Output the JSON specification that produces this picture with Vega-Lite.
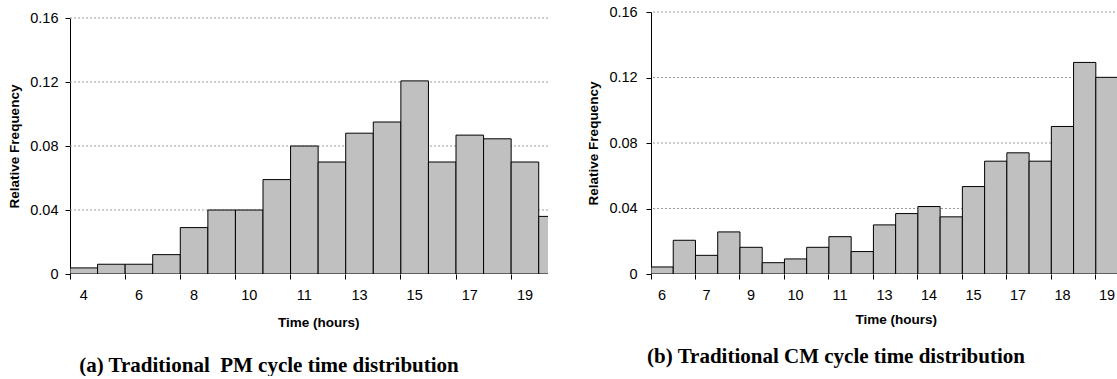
{
  "$schema": "https://vega.github.io/schema/vega-lite/v6.json",
  "background": "white",
  "padding": {"left": 7, "top": 4, "right": 0, "bottom": 0},
  "spacing": 19,
  "config": {
    "view": {"stroke": null},
    "font": "Liberation Sans",
    "axis": {
      "domainColor": "black",
      "tickColor": "black",
      "tickSize": 5,
      "labelColor": "black",
      "labelFont": "Liberation Sans",
      "labelFontSize": 14.5,
      "titleColor": "black",
      "titleFont": "Liberation Sans",
      "titleFontSize": 13.5,
      "titleFontWeight": "bold",
      "grid": false
    }
  },
  "datasets": {
    "grid": [{"f": 0.04}, {"f": 0.08}, {"f": 0.12}, {"f": 0.16}],
    "pm": [
      {"t": "4", "f": 0.0038}, {"t": "5", "f": 0.0061}, {"t": "6", "f": 0.0061},
      {"t": "7", "f": 0.0121}, {"t": "8", "f": 0.029}, {"t": "9", "f": 0.040},
      {"t": "10", "f": 0.040}, {"t": "10.5", "f": 0.059}, {"t": "11", "f": 0.080},
      {"t": "12", "f": 0.070}, {"t": "13", "f": 0.088}, {"t": "14", "f": 0.095},
      {"t": "15", "f": 0.1207}, {"t": "16", "f": 0.070}, {"t": "17", "f": 0.0868},
      {"t": "18", "f": 0.0845}, {"t": "19", "f": 0.070}, {"t": "20", "f": 0.036}
    ],
    "cm": [
      {"t": "6", "f": 0.0043}, {"t": "6.5", "f": 0.0206}, {"t": "7", "f": 0.0114},
      {"t": "8", "f": 0.0257}, {"t": "9", "f": 0.0163}, {"t": "9.5", "f": 0.0069},
      {"t": "10", "f": 0.0092}, {"t": "10.5", "f": 0.0163}, {"t": "11", "f": 0.0228},
      {"t": "12", "f": 0.0137}, {"t": "13", "f": 0.030}, {"t": "13.5", "f": 0.0369},
      {"t": "14", "f": 0.0412}, {"t": "14.5", "f": 0.0349}, {"t": "15", "f": 0.0534},
      {"t": "16", "f": 0.0689}, {"t": "17", "f": 0.074}, {"t": "17.5", "f": 0.0689},
      {"t": "18", "f": 0.0901}, {"t": "18.5", "f": 0.1292}, {"t": "19", "f": 0.1201}
    ]
  },
  "hconcat": [
    {
      "width": 478,
      "height": 262,
      "title": {
        "text": "(a) Traditional\u00a0 PM cycle time distribution",
        "orient": "bottom",
        "anchor": "middle",
        "dx": -40,
        "offset": 26,
        "font": "Liberation Serif",
        "fontSize": 21,
        "fontWeight": "bold",
        "color": "black"
      },
      "layer": [
        {
          "data": {"name": "grid"},
          "mark": {"type": "rule", "color": "#999999", "strokeDash": [2, 2], "strokeWidth": 1},
          "encoding": {
            "y": {
              "field": "f", "type": "quantitative",
              "scale": {"domain": [0, 0.16], "range": [262, 6], "nice": false},
              "axis": {
                "title": "Relative Frequency",
                "values": [0, 0.04, 0.08, 0.12, 0.16],
                "labelExpr": "datum.value == 0 ? '0' : format(datum.value, '.2f')",
                "labelPadding": 7,
                "titlePadding": 8.5
              }
            }
          }
        },
        {
          "data": {"name": "pm"},
          "mark": {"type": "bar", "fill": "#c0c0c0", "stroke": "black", "strokeWidth": 1, "clip": true},
          "encoding": {
            "x": {
              "field": "t", "type": "ordinal", "sort": null,
              "scale": {
                "domain": ["4","5","6","7","8","9","10","10.5","11","12","13","14","15","16","17","18","19","20"],
                "range": [0, 496.3],
                "paddingInner": 0, "paddingOuter": 0
              },
              "axis": {
                "title": "Time (hours)",
                "values": ["4","6","8","10","11","13","15","17","19"],
                "bandPosition": 0,
                "labelOffset": 0,
                "labelAngle": 0,
                "labelOverlap": false,
                "domain": false,
                "labelPadding": 9,
                "titlePadding": 14
              }
            },
            "y": {
              "field": "f", "type": "quantitative",
              "scale": {"domain": [0, 0.16], "range": [262, 6], "nice": false},
              "axis": {
                "title": "Relative Frequency",
                "values": [0, 0.04, 0.08, 0.12, 0.16],
                "labelExpr": "datum.value == 0 ? '0' : format(datum.value, '.2f')",
                "labelPadding": 7,
                "titlePadding": 8.5
              }
            }
          }
        }
      ]
    },
    {
      "width": 468,
      "height": 262,
      "title": {
        "text": "(b) Traditional CM cycle time distribution",
        "orient": "bottom",
        "anchor": "middle",
        "dx": -49,
        "offset": 20,
        "font": "Liberation Serif",
        "fontSize": 21,
        "fontWeight": "bold",
        "color": "black"
      },
      "layer": [
        {
          "data": {"name": "grid"},
          "mark": {"type": "rule", "color": "#999999", "strokeDash": [2, 2], "strokeWidth": 1},
          "encoding": {
            "y": {
              "field": "f", "type": "quantitative",
              "scale": {"domain": [0, 0.16], "nice": false},
              "axis": {
                "title": "Relative Frequency",
                "values": [0, 0.04, 0.08, 0.12, 0.16],
                "labelExpr": "datum.value == 0 ? '0' : format(datum.value, '.2f')",
                "labelPadding": 8.8,
                "titlePadding": 8.5
              }
            }
          }
        },
        {
          "data": {"name": "cm"},
          "mark": {"type": "bar", "fill": "#c0c0c0", "stroke": "black", "strokeWidth": 1, "clip": true},
          "encoding": {
            "x": {
              "field": "t", "type": "ordinal", "sort": null,
              "scale": {
                "domain": ["6","6.5","7","8","9","9.5","10","10.5","11","12","13","13.5","14","14.5","15","16","17","17.5","18","18.5","19","19.5"],
                "range": [0, 489.3],
                "paddingInner": 0, "paddingOuter": 0
              },
              "axis": {
                "title": "Time (hours)",
                "values": ["6","7","9","10","11","13","14","15","17","18","19"],
                "bandPosition": 0,
                "labelOffset": 0,
                "labelAngle": 0,
                "labelOverlap": false,
                "domain": false,
                "labelPadding": 9,
                "titlePadding": 11
              }
            },
            "y": {
              "field": "f", "type": "quantitative",
              "scale": {"domain": [0, 0.16], "nice": false},
              "axis": {
                "title": "Relative Frequency",
                "values": [0, 0.04, 0.08, 0.12, 0.16],
                "labelExpr": "datum.value == 0 ? '0' : format(datum.value, '.2f')",
                "labelPadding": 8.8,
                "titlePadding": 8.5
              }
            }
          }
        }
      ]
    }
  ]
}
